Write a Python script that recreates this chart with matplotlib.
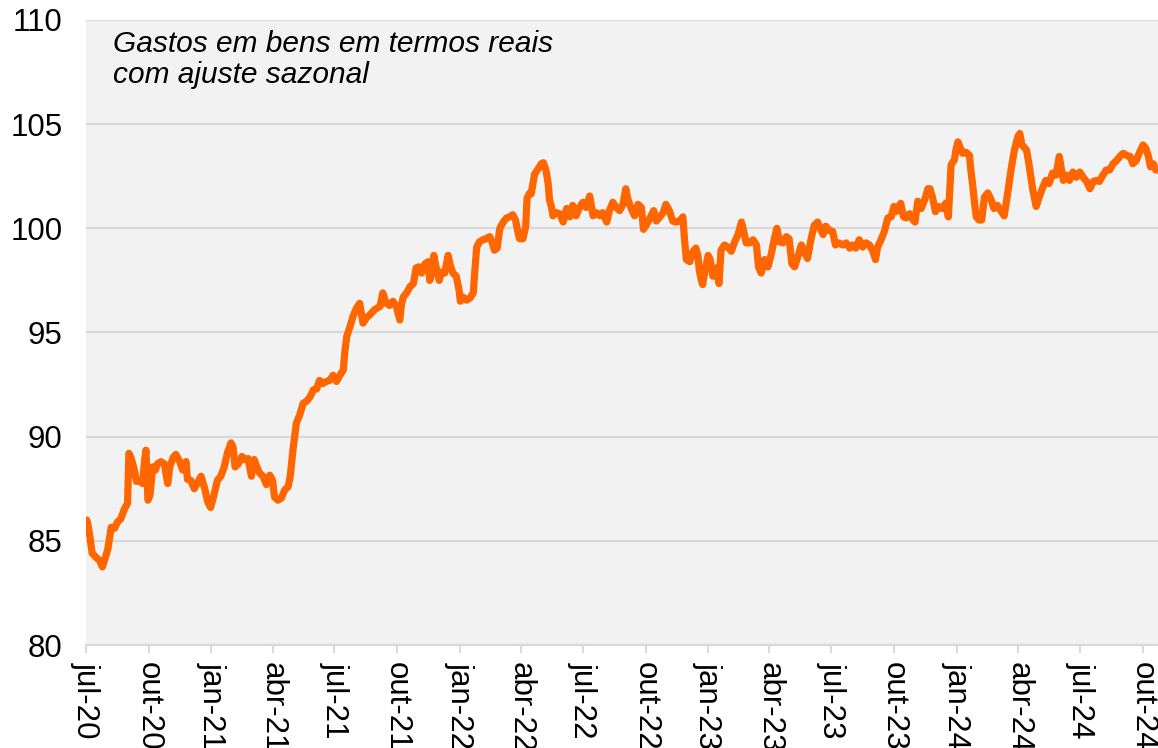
import numpy as np
import pandas as pd
import matplotlib
matplotlib.use('Agg')
import matplotlib.pyplot as plt

plt.rcParams['font.family'] = ['Liberation Sans', 'DejaVu Sans']

# days since 2020-07-01 and index value in stretches
days_a = [1, 2, 5, 9, 15, 20, 24, 28, 32, 37, 42, 46, 51, 56, 61, 63, 66, 71, 74, 78,
          83, 86, 88, 91, 94, 98, 102, 105, 110, 115, 120, 123, 128, 132, 137, 142,
          147, 149, 154, 159, 164, 169, 174, 179, 183, 188, 193, 198, 203, 208, 213]
vals_a = [86.0, 85.9, 85.35, 84.4, 84.2, 84.05, 83.75, 84.15, 84.6, 85.65, 85.6, 85.9,
          86.05, 86.5, 86.8, 89.2, 89.0, 88.4, 87.85, 87.9, 87.75, 88.85, 89.35, 86.95,
          87.2, 88.55, 88.4, 88.7, 88.8, 88.7, 87.75, 88.55, 89.0, 89.15, 88.85, 88.4,
          88.8, 87.95, 87.9, 87.5, 87.8, 88.1, 87.55, 86.85, 86.6, 87.2, 87.9, 88.1,
          88.55, 89.25, 89.7]

days_b = [216, 219, 224, 229, 233, 238, 243, 247, 251, 255, 260, 265, 270, 274, 277,
          282, 287, 292, 297, 300, 304, 307, 309, 314, 319, 324, 329, 334, 339, 343,
          348, 353, 358, 363, 368, 373, 378, 380, 383, 388, 392, 397, 402, 407, 412,
          417, 424]
vals_b = [89.5, 88.55, 88.7, 89.05, 88.9, 88.95, 88.1, 88.9, 88.55, 88.25, 88.1, 87.7,
          88.15, 87.9, 87.1, 86.95, 87.05, 87.45, 87.6, 88.1, 89.35, 90.15, 90.65, 91.05,
          91.6, 91.7, 91.9, 92.25, 92.3, 92.7, 92.55, 92.65, 92.7, 92.95, 92.65, 92.95,
          93.2, 94.0, 94.8, 95.3, 95.75, 96.15, 96.4, 95.45, 95.7, 95.85, 96.1]

days_c = [432, 436, 441, 446, 451, 456, 461, 463, 466, 471, 476, 481, 485, 489, 493,
          498, 503, 505, 509, 511, 515, 519, 522, 527, 532, 535, 539, 544, 548, 550,
          554, 559, 564, 569, 571, 574, 578, 583, 588, 593, 597, 600, 604, 608, 613,
          618, 622, 627, 631, 635, 637, 642, 646, 648, 652]
vals_c = [96.25, 96.9, 96.4, 96.3, 96.5, 96.25, 95.6, 96.25, 96.7, 96.9, 97.2, 97.35,
          98.1, 98.15, 97.85, 98.3, 98.4, 97.5, 98.0, 98.7, 98.0, 97.5, 97.9, 97.85,
          98.7, 98.25, 97.85, 97.7, 97.05, 96.5, 96.7, 96.55, 96.65, 96.9, 97.85, 99.1,
          99.35, 99.45, 99.5, 99.6, 99.3, 98.95, 99.05, 100.0, 100.3, 100.5, 100.55,
          100.65, 100.4, 99.75, 99.5, 99.5, 100.1, 101.45, 101.7]

days_d = [654, 659, 664, 669, 672, 676, 679, 681, 684, 686, 691, 696, 701, 706, 711,
          715, 720, 725, 730, 735, 740, 745, 750, 755, 759, 765, 769, 774, 779, 784,
          789, 793, 796, 801, 806, 811, 816, 819, 823, 828, 834, 838, 843, 848, 852,
          857, 862, 867, 872]
vals_d = [101.65, 102.6, 102.85, 103.1, 103.15, 102.75, 102.15, 101.35, 101.0, 100.6,
          100.75, 100.7, 100.3, 100.95, 100.55, 101.1, 100.6, 101.0, 101.25, 101.0,
          101.55, 100.6, 100.75, 100.6, 100.75, 100.3, 100.85, 101.25, 101.0, 100.85,
          101.15, 101.9, 101.4, 100.95, 100.6, 101.15, 101.0, 99.95, 100.15, 100.45,
          100.85, 100.35, 100.55, 100.75, 101.15, 100.85, 100.35, 100.3, 100.35]

days_e = [877, 879, 882, 887, 892, 896, 899, 901, 904, 906, 909, 914, 917, 921, 926,
          930, 933, 938, 943, 948, 953, 958, 963, 966, 970, 975, 980, 985, 988, 992,
          997, 1002, 1007, 1011, 1015, 1019, 1024, 1029, 1033, 1037, 1041, 1046, 1051,
          1055, 1060, 1065, 1070, 1075, 1080, 1083, 1087, 1092, 1097, 1101, 1106]
vals_e = [100.55, 99.6, 98.5, 98.4, 98.9, 99.05, 98.7, 98.0, 97.5, 97.3, 97.9, 98.7,
          98.5, 97.7, 98.1, 97.35, 98.95, 99.2, 99.1, 98.9, 99.35, 99.7, 100.3, 99.9,
          99.3, 99.3, 99.45, 99.2, 98.15, 97.85, 98.5, 98.15, 98.8, 99.45, 100.0, 99.35,
          99.3, 99.6, 99.5, 98.3, 98.15, 98.65, 99.2, 98.9, 98.55, 99.45, 100.15, 100.3,
          99.9, 99.7, 100.1, 99.9, 99.85, 99.2, 99.3]

days_f = [1112, 1117, 1122, 1126, 1131, 1136, 1141, 1146, 1151, 1156, 1160, 1163, 1168,
          1173, 1178, 1183, 1187, 1190, 1194, 1197, 1201, 1205, 1210, 1215, 1218, 1222,
          1227, 1232, 1237, 1240, 1244, 1248, 1253, 1258, 1263, 1267, 1271, 1276, 1278,
          1281, 1284, 1288, 1293, 1298, 1300, 1303, 1305, 1308, 1312, 1316, 1320, 1325,
          1330]
vals_f = [99.2, 99.3, 99.05, 99.2, 99.05, 99.45, 99.1, 99.3, 99.2, 98.9, 98.5, 99.1,
          99.45, 99.85, 100.5, 100.55, 101.05, 100.8, 101.05, 101.2, 100.55, 100.5, 100.7,
          100.4, 100.3, 101.3, 100.95, 101.35, 101.9, 101.9, 101.45, 100.8, 101.05,
          100.95, 101.2, 100.55, 103.05, 103.3, 103.75, 104.15, 103.9, 103.6, 103.65,
          103.5, 102.8, 102.0, 101.35, 100.55, 100.4, 100.4, 101.5, 101.7, 101.35]

days_g = [1334, 1339, 1344, 1349, 1354, 1359, 1364, 1369, 1372, 1375, 1378, 1382, 1386,
          1391, 1396, 1400, 1405, 1410, 1415, 1420, 1425, 1430, 1432, 1436, 1441, 1445,
          1450, 1455, 1460, 1465, 1470, 1475, 1480, 1485, 1489, 1494, 1499, 1504, 1509,
          1514, 1519, 1524, 1529, 1534, 1538, 1543, 1548, 1553, 1557, 1561, 1564, 1568,
          1572, 1575]
vals_g = [100.95, 101.1, 100.85, 100.6, 101.65, 102.8, 103.75, 104.4, 104.55, 104.0,
          103.9, 103.75, 102.95, 101.85, 101.05, 101.45, 101.9, 102.3, 102.15, 102.65,
          102.55, 103.45, 103.05, 102.3, 102.55, 102.3, 102.7, 102.45, 102.7, 102.45,
          102.25, 101.9, 102.25, 102.3, 102.25, 102.55, 102.8, 102.8, 103.1, 103.25,
          103.45, 103.6, 103.5, 103.45, 103.1, 103.25, 103.65, 104.0, 103.85, 103.45,
          102.95, 103.1, 102.8, 102.8]

tick_labels = ['jul-20', 'out-20', 'jan-21', 'abr-21', 'jul-21', 'out-21', 'jan-22',
               'abr-22', 'jul-22', 'out-22', 'jan-23', 'abr-23', 'jul-23', 'out-23',
               'jan-24', 'abr-24', 'jul-24', 'out-24']
y_ticks = [80, 85, 90, 95, 100, 105, 110]

start = pd.Timestamp('2020-07-01')
days = np.concatenate([days_a, days_b, days_c, days_d, days_e, days_f, days_g])
vals = np.concatenate([vals_a, vals_b, vals_c, vals_d, vals_e, vals_f, vals_g])
dates = start + pd.to_timedelta(days, unit='D')

fig = plt.figure(figsize=(11.58, 7.48), dpi=100)
ax = fig.add_axes([0.0743, 0.1377, 0.9257, 0.8356])
ax.set_facecolor('#f2f2f2')

ax.plot(dates, vals, color='#ff6600', lw=5.2, solid_joinstyle='round',
        solid_capstyle='round', zorder=3)

ax.set_ylim(80, 110)
ax.set_yticks(y_ticks)
ax.set_xlim(start, start + pd.Timedelta(days=1575))
ax.set_xticks(pd.date_range('2020-07-01', '2024-10-01', freq='QS'))
ax.set_xticklabels(tick_labels)

ax.yaxis.grid(True, color='#d9d9d9', lw=1.6)
ax.set_axisbelow(True)
for s in ['top', 'right', 'left']:
    ax.spines[s].set_visible(False)
ax.spines['bottom'].set_color('#d9d9d9')
ax.spines['bottom'].set_linewidth(1.6)

ax.tick_params(axis='y', length=0, pad=17, labelsize=22.5)
ax.tick_params(axis='x', length=6, width=1.5, color='#d9d9d9', pad=6,
               labelsize=22.5, labelrotation=-90)

ax.text(0.0252, 0.984, 'Gastos em bens em termos reais\ncom ajuste sazonal',
        transform=ax.transAxes, style='italic', fontsize=21.5, va='top', ha='left',
        linespacing=1.12)

fig.savefig('out.png', dpi=100)
